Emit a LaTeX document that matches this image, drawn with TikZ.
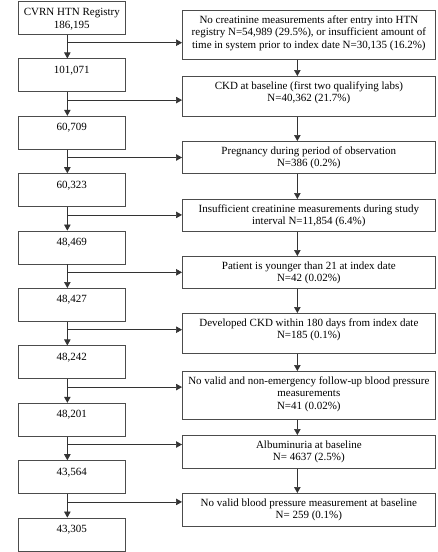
\documentclass[tikz,border=0pt]{standalone}
\usepackage{fontspec}
\setmainfont{Liberation Serif}
\usetikzlibrary{arrows.meta,calc}
\newcommand\lbtxt[1]{\parbox[t][33pt][t]{107pt}{\centering\rule{0pt}{14.5pt}#1}}
\newcommand\rbtxt[2]{\parbox[t][#1][t]{253pt}{\centering\rule{0pt}{13pt}#2}}
\begin{document}
\begin{tikzpicture}[x=1pt,y=-1pt,
  lbox/.style={draw=black!70, line width=0.7pt, inner sep=0pt, anchor=north west, font=\fontsize{11}{12.6}\selectfont},
  rbox/.style={draw=black!70, line width=0.7pt, inner sep=0pt, anchor=north west, font=\fontsize{11}{12.6}\selectfont},
  arr/.style={draw=black!80, line width=0.7pt, -{Triangle[length=6pt,width=6.5pt]}}]
\fill[white] (0,0) rectangle (437,552);
\useasboundingbox (0,0) rectangle (437,552);
% left column
\node[lbox] (L1) at (18,1) {\lbtxt{CVRN HTN Registry\\186,195}};
\node[lbox] (L2) at (18,58.4) {\lbtxt{101,071}};
\node[lbox] (L3) at (18,115.8) {\lbtxt{60,709}};
\node[lbox] (L4) at (18,173.2) {\lbtxt{60,323}};
\node[lbox] (L5) at (18,230.6) {\lbtxt{48,469}};
\node[lbox] (L6) at (18,288) {\lbtxt{48,427}};
\node[lbox] (L7) at (18,345.4) {\lbtxt{48,242}};
\node[lbox] (L8) at (18,402.8) {\lbtxt{48,201}};
\node[lbox] (L9) at (18,460.2) {\lbtxt{43,564}};
\node[lbox] (L10) at (18,517.6) {\lbtxt{43,305}};
% right column
\node[rbox] (R1) at (182,10) {\rbtxt{49pt}{No creatinine measurements after entry into HTN\\registry N=54,989 (29.5\%), or insufficient amount of\\time in system prior to index date N=30,135 (16.2\%)}};
\node[rbox] (R2) at (182,76) {\rbtxt{40pt}{CKD at baseline (first two qualifying labs)\\N=40,362 (21.7\%)}};
\node[rbox] (R3) at (182,141) {\rbtxt{32pt}{Pregnancy during period of observation\\N=386 (0.2\%)}};
\node[rbox] (R4) at (182,199) {\rbtxt{32pt}{Insufficient creatinine measurements during study\\interval N=11,854 (6.4\%)}};
\node[rbox] (R5) at (182,256) {\rbtxt{32pt}{Patient is younger than 21 at index date\\N=42 (0.02\%)}};
\node[rbox] (R6) at (182,313) {\rbtxt{40pt}{Developed CKD within 180 days from index date\\N=185 (0.1\%)}};
\node[rbox] (R7) at (182,371) {\rbtxt{48pt}{No valid and non-emergency follow-up blood pressure\\measurements\\N=41 (0.02\%)}};
\node[rbox] (R8) at (182,435) {\rbtxt{33pt}{Albuminuria at baseline\\N= 4637 (2.5\%)}};
\node[rbox] (R9) at (182,493) {\rbtxt{33pt}{No valid blood pressure measurement at baseline\\N= 259 (0.1\%)}};
% left vertical arrows and branches
\foreach \i/\j in {1/2,2/3,3/4,4/5,5/6,6/7,7/8,8/9,9/10}{
  \draw[arr] ([xshift=-4.5pt]L\i.south) -- ([xshift=-4.5pt]L\j.north);
  \coordinate (b\i) at ([shift={(-4.5,8)}]L\i.south);
  \draw[arr] (b\i) -- (b\i -| R\i.west);
}
% right vertical arrows
\foreach \i/\j in {1/2,2/3,3/4,4/5,5/6,6/7,7/8,8/9}{
  \draw[arr] ([xshift=-11.5pt]R\i.south) -- ([xshift=-11.5pt]R\j.north);
}
\end{tikzpicture}
\end{document}
